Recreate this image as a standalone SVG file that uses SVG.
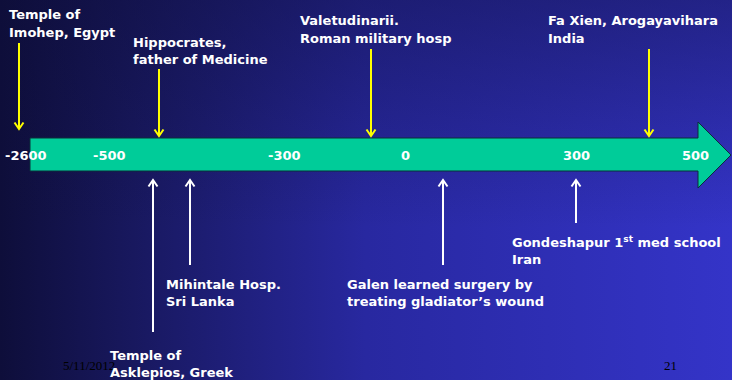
<svg xmlns="http://www.w3.org/2000/svg" width="732" height="380" viewBox="0 0 732 380">
  <defs>
    <linearGradient id="bgH" x1="0" y1="0" x2="1" y2="0">
      <stop offset="0" stop-color="#0e0e3a"/>
      <stop offset="0.2" stop-color="#191962"/>
      <stop offset="0.5" stop-color="#2828a0"/>
      <stop offset="1" stop-color="#3434c8"/>
    </linearGradient>
    <linearGradient id="bgV" x1="0" y1="0" x2="0" y2="1">
      <stop offset="0" stop-color="#0e0e3a" stop-opacity="0.45"/>
      <stop offset="0.6" stop-color="#0e0e3a" stop-opacity="0"/>
    </linearGradient>
    <marker id="headY" markerUnits="userSpaceOnUse" markerWidth="12" markerHeight="12" orient="auto" overflow="visible">
      <path d="M-6.5,-4.5 L0,0 L-6.5,4.5" fill="none" stroke="#ffff00" stroke-width="2"/>
    </marker>
    <marker id="headW" markerUnits="userSpaceOnUse" markerWidth="12" markerHeight="12" orient="auto" overflow="visible">
      <path d="M-6.5,-4.5 L0,0 L-6.5,4.5" fill="none" stroke="#ffffff" stroke-width="2"/>
    </marker>
  </defs>
  <style>
    .lbl { font-family: "DejaVu Sans", Verdana, sans-serif; font-weight: bold; font-size: 13px; fill: #ffffff; }
    .num { font-family: "DejaVu Sans", Verdana, sans-serif; font-weight: bold; font-size: 13px; fill: #ffffff; }
    .foot { font-family: "Liberation Serif", "Times New Roman", serif; font-size: 13px; fill: #000000; }
    .down { stroke: #ffff00; stroke-width: 2; fill: none; marker-end: url(#headY); }
    .up { stroke: #ffffff; stroke-width: 2; fill: none; marker-end: url(#headW); }
  </style>

  <!-- slide background -->
  <rect x="0" y="0" width="732" height="380" fill="url(#bgH)"/>
  <rect x="0" y="0" width="732" height="380" fill="url(#bgV)"/>

  <!-- timeline arrow -->
  <g id="timeline">
    <polygon points="30,138 698,138 698,122 731,155 698,188 698,171 30,171" fill="#00cc99" stroke="#0a2e3a" stroke-width="1"/>
    <text class="num" x="5" y="160">-2600</text>
    <text class="num" x="93" y="160">-500</text>
    <text class="num" x="268" y="160">-300</text>
    <text class="num" x="401" y="160">0</text>
    <text class="num" x="563" y="160">300</text>
    <text class="num" x="682" y="160">500</text>
  </g>

  <!-- footer -->
  <text class="foot" x="63" y="370">5/11/2012</text>
  <text class="foot" x="664" y="370">21</text>

  <!-- event markers -->
  <g id="connectors">
    <line class="down" x1="19" y1="43" x2="19" y2="129"/>
    <line class="down" x1="159" y1="69" x2="159" y2="136"/>
    <line class="down" x1="371" y1="49" x2="371" y2="136"/>
    <line class="down" x1="649" y1="49" x2="649" y2="136"/>
    <line class="up" x1="153" y1="332" x2="153" y2="180"/>
    <line class="up" x1="190" y1="265" x2="190" y2="180"/>
    <line class="up" x1="443" y1="265" x2="443" y2="180"/>
    <line class="up" x1="576" y1="223" x2="576" y2="180"/>
  </g>

  <!-- event labels -->
  <g id="imohep">
    <text class="lbl" x="9" y="19">Temple of</text>
    <text class="lbl" x="9" y="36.5">Imohep, Egypt</text>
  </g>
  <g id="hippocrates">
    <text class="lbl" x="133" y="46.5">Hippocrates,</text>
    <text class="lbl" x="133" y="63.5">father of Medicine</text>
  </g>
  <g id="valetudinarii">
    <text class="lbl" x="300" y="25">Valetudinarii.</text>
    <text class="lbl" x="300" y="42.5">Roman military hosp</text>
  </g>
  <g id="faxien">
    <text class="lbl" x="548" y="25">Fa Xien, Arogayavihara</text>
    <text class="lbl" x="548" y="42.5">India</text>
  </g>
  <g id="mihintale">
    <text class="lbl" x="166" y="289">Mihintale Hosp.</text>
    <text class="lbl" x="166" y="306">Sri Lanka</text>
  </g>
  <g id="galen">
    <text class="lbl" x="347" y="289">Galen learned surgery by</text>
    <text class="lbl" x="347" y="306">treating gladiator’s wound</text>
  </g>
  <g id="gondeshapur">
    <text class="lbl" x="512" y="246.5">Gondeshapur 1<tspan font-size="9" dy="-5">st</tspan><tspan dy="5"> med school</tspan></text>
    <text class="lbl" x="512" y="264">Iran</text>
  </g>
  <g id="asklepios">
    <text class="lbl" x="110" y="360">Temple of</text>
    <text class="lbl" x="110" y="377">Asklepios, Greek</text>
  </g>
</svg>
